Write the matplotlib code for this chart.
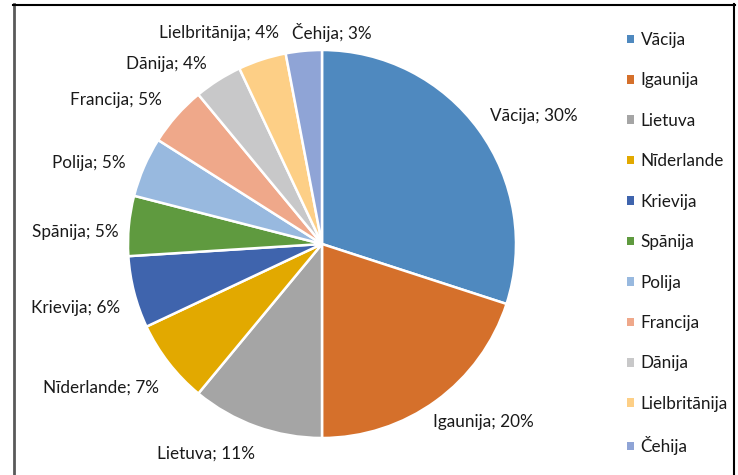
import matplotlib.pyplot as plt
from matplotlib.patches import Patch
from matplotlib.lines import Line2D

# data
countries = ['Vācija', 'Igaunija', 'Lietuva', 'Nīderlande', 'Krievija', 'Spānija',
             'Polija', 'Francija', 'Dānija', 'Lielbritānija', 'Čehija']
shares = [30, 20, 11, 7, 6, 5, 5, 5, 4, 4, 3]

colors = ['#4F89BF', '#D5702B', '#A5A5A5', '#E2A900', '#3F64AD', '#5F9A3F',
          '#98B9DF', '#EFA88A', '#C8C8C9', '#FDCF86', '#8FA4D6']

# label centres, in pie-radius units (Excel "best fit" placement)
label_xy = [(1.09, 0.66), (0.83, -0.92), (-0.60, -1.08), (-1.14, -0.74), (-1.27, -0.33),
            (-1.27, 0.06), (-1.20, 0.42), (-1.06, 0.74), (-0.80, 0.93), (-0.53, 1.09),
            (0.05, 1.09)]

plt.rcParams['font.family'] = ['Lato', 'DejaVu Sans']
FS = 12.3

W, H = 738, 475
fig = plt.figure(figsize=(W / 100, H / 100), dpi=100)
ax = fig.add_axes([0, 0, 1, 1])

# pie centre at (322, 244) px, radius 194 px
cx, cy, R = 322, 244, 194
wedges, _ = ax.pie(shares, colors=colors, startangle=90, counterclock=False,
                   radius=1, wedgeprops=dict(edgecolor='white', linewidth=1.8))
ax.set_xlim(-cx / R, (W - cx) / R)
ax.set_ylim(-(H - cy) / R, cy / R)
ax.set_aspect('auto')
ax.axis('off')

for name, val, (lx, ly) in zip(countries, shares, label_xy):
    ax.text(lx, ly, f'{name}; {val}%', ha='center', va='center', fontsize=FS, color='#1a1a1a')

handles = [Patch(facecolor=c, edgecolor='none') for c in colors]
leg = fig.legend(handles, countries, loc='upper left', bbox_to_anchor=(627 / W, 1 - 32 / H),
                 frameon=False, fontsize=FS, labelspacing=1.43, handlelength=0.4,
                 handleheight=0.4, handletextpad=0.4, borderpad=0, borderaxespad=0)
for t in leg.get_texts():
    t.set_color('#1a1a1a')

# chart area frame
fig.add_artist(Line2D([14 / W, 14 / W], [0, 1 - 4 / H], color='#595959', lw=2, transform=fig.transFigure))
fig.add_artist(Line2D([13 / W, 735 / W], [1 - 4.5 / H, 1 - 4.5 / H], color='black', lw=1.5, transform=fig.transFigure))
fig.add_artist(Line2D([734 / W, 734 / W], [0, 1 - 4 / H], color='black', lw=1.5, transform=fig.transFigure))

fig.savefig('out.png', dpi=100)
